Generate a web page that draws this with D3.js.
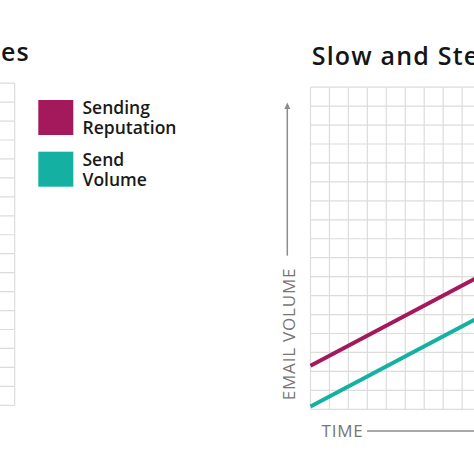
<!DOCTYPE html>
<html><head><meta charset="utf-8">
<script src="https://cdn.jsdelivr.net/npm/d3@7"></script>
<style>html,body{margin:0;padding:0;background:#fff;overflow:hidden}svg{display:block}</style>
</head><body><div id="chart"></div>
<script>
// ---- data ----
const timeSteps = [0, 17];
const sendingReputation = [2.3, 11.3];
const sendVolume = [0.15, 9.15];
const seriesNames = ["Sending Reputation", "Send Volume"];
const legendLines = [["Sending", "Reputation"], ["Send", "Volume"]];
const seriesColors = ["#a3195b", "#14b1a3"];
const gridTicks = d3.range(0, 18);
const rightTitle = "Slow and Steady";
const leftTitleTail = "es";
const yLabel = "EMAIL VOLUME";
const xLabel = "TIME";

const W = 474, H = 474;
const svg = d3.select("#chart").append("svg").attr("width", W).attr("height", H);
const font = "'Open Sans', 'Noto Sans', sans-serif";
const cell = 18.95;

// ---- left panel (cut off) ----
const xL = d3.scaleLinear().domain([0, 17]).range([14.7 - 17 * cell, 14.7]);
const yL = d3.scaleLinear().domain([0, 17]).range([405.3, 405.3 - 17 * cell]);
const gL = svg.append("g");
gL.selectAll("line.h").data(gridTicks).join("line")
  .attr("x1", xL(0)).attr("x2", xL(17)).attr("y1", d => yL(d)).attr("y2", d => yL(d))
  .attr("stroke", "#dcdcdc").attr("stroke-width", 1.2);
gL.selectAll("line.v").data(gridTicks).join("line")
  .attr("y1", yL(0)).attr("y2", yL(17)).attr("x1", d => xL(d)).attr("x2", d => xL(d))
  .attr("stroke", "#dcdcdc").attr("stroke-width", 1.2);
svg.append("text").attr("x", 30).attr("y", 61).attr("text-anchor", "end")
  .attr("font-family", font).attr("font-weight", 600).attr("font-size", 25)
  .attr("letter-spacing", 1.2).attr("fill", "#151515").text(leftTitleTail);

// ---- legend ----
const lg = svg.append("g");
seriesNames.forEach((name, i) => {
  const top = 100 + i * 51.7;
  lg.append("rect").attr("x", 38.3).attr("y", top).attr("width", 35).attr("height", 35)
    .attr("fill", seriesColors[i]);
  const t = lg.append("text").attr("font-family", font).attr("font-size", 17.5)
    .attr("font-weight", 600).attr("fill", "#1a1a1a");
  legendLines[i].forEach((ln, j) => {
    t.append("tspan").attr("x", 82.5).attr("y", top + 14 + j * 20).text(ln);
  });
});

// ---- right panel ----
const x = d3.scaleLinear().domain([0, 17]).range([310.5, 310.5 + 17 * cell]);
const y = d3.scaleLinear().domain([0, 17]).range([409.3, 409.3 - 17 * cell]);
const gR = svg.append("g");
gR.selectAll("line.h").data(gridTicks).join("line")
  .attr("x1", x(0)).attr("x2", x(17)).attr("y1", d => y(d)).attr("y2", d => y(d))
  .attr("stroke", "#dcdcdc").attr("stroke-width", 1.2);
gR.selectAll("line.v").data(gridTicks).join("line")
  .attr("y1", y(0)).attr("y2", y(17)).attr("x1", d => x(d)).attr("x2", d => x(d))
  .attr("stroke", "#dcdcdc").attr("stroke-width", 1.2);

svg.append("text").attr("x", 311.7).attr("y", 65)
  .attr("font-family", font).attr("font-weight", 600).attr("font-size", 25)
  .attr("letter-spacing", 1.2).attr("fill", "#151515").text(rightTitle);

const series = [sendingReputation, sendVolume];
const line = d3.line().x(d => x(d[0])).y(d => y(d[1]));
series.forEach((vals, i) => {
  const pts = timeSteps.map((t, k) => [t, vals[k]]);
  gR.append("path").attr("d", line(pts)).attr("fill", "none")
    .attr("stroke", seriesColors[i]).attr("stroke-width", 4).attr("stroke-linecap", "butt");
});

// y axis arrow + label
const axisColor = "#8c8c8c";
svg.append("line").attr("x1", 287.3).attr("x2", 287.3).attr("y1", 255.7).attr("y2", 107)
  .attr("stroke", axisColor).attr("stroke-width", 1.5);
svg.append("path").attr("d", "M287.3,102.5 L290.3,109 L284.3,109 Z").attr("fill", axisColor);
svg.append("text").attr("transform", "translate(294.5,334) rotate(-90)")
  .attr("text-anchor", "middle").attr("font-family", font).attr("font-size", 17)
  .attr("font-weight", 500).attr("letter-spacing", 0.8).attr("fill", "#767676").text(yLabel);

// x axis label + line
svg.append("text").attr("x", 321.5).attr("y", 437.3)
  .attr("font-family", font).attr("font-size", 17).attr("font-weight", 500)
  .attr("letter-spacing", 0.8).attr("fill", "#767676").text(xLabel);
svg.append("line").attr("x1", 367).attr("x2", 480).attr("y1", 431).attr("y2", 431)
  .attr("stroke", axisColor).attr("stroke-width", 1.5);
</script>
</body></html>
